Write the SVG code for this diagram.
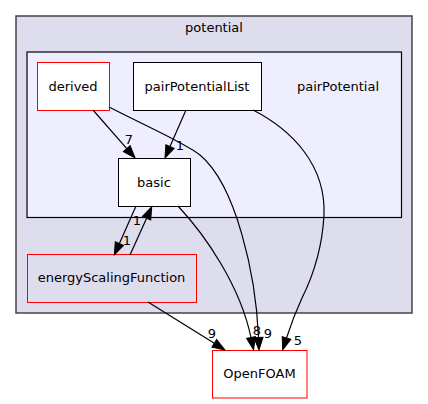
<svg xmlns="http://www.w3.org/2000/svg" width="428" height="404" viewBox="0 0 428 404">
<style>
text{font-family:"DejaVu Sans","Liberation Sans",sans-serif;font-size:13px;fill:#000;text-anchor:middle}
.n{fill:#fff;stroke:#000;stroke-width:1}
.r{stroke:#ff0000}
.e{fill:none;stroke:#000;stroke-width:1.2}
</style>
<defs>
<marker id="a" markerUnits="userSpaceOnUse" markerWidth="16" markerHeight="12" refX="0" refY="4.5" orient="auto" overflow="visible">
<path d="M0,0 L12.5,4.5 L0,9 z" fill="#000" stroke="#000" stroke-width="1"/>
</marker>
</defs>
<rect width="428" height="404" fill="#fff"/>
<g id="cluster_potential">
<rect x="16" y="16" width="396" height="297" fill="#ddddee" stroke="#444" stroke-width="1.5"/>
<text x="214" y="31.5">potential</text>
</g>
<g id="cluster_pairPotential">
<rect x="27" y="52" width="374.5" height="165.5" fill="#eeeeff" stroke="#000" stroke-width="1.2"/>
<text x="338" y="90.5">pairPotential</text>
</g>
<g id="node_derived">
<rect class="n r" x="37.5" y="62.5" width="72" height="48"/>
<text x="73" y="90.5">derived</text>
</g>
<g id="node_pairPotentialList">
<rect class="n" x="133.5" y="62.5" width="128" height="48"/>
<text x="197" y="90.5">pairPotentialList</text>
</g>
<g id="node_basic">
<rect class="n" x="118.5" y="158.5" width="72" height="48"/>
<text x="154" y="186.5">basic</text>
</g>
<g id="node_energyScalingFunction">
<rect class="n r" x="27.5" y="254.5" width="169" height="48" style="fill:#ddddee"/>
<text x="111.5" y="282">energyScalingFunction</text>
</g>
<g id="node_OpenFOAM">
<rect class="n r" x="212.5" y="350.5" width="94.5" height="47.5"/>
<text x="259.5" y="378">OpenFOAM</text>
</g>
<g id="edges">
<path class="e" marker-end="url(#a)" d="M93,110 L126.8,148.6"/>
<text x="129" y="143.5">7</text>
<path class="e" marker-end="url(#a)" d="M186,110 L170,146.5"/>
<text x="180" y="149.5">1</text>
<path class="e" marker-end="url(#a)" d="M109,107 C150,128 185,143 200,155 C236,185 256,275 258.5,337.5"/>
<text x="268" y="337.5">9</text>
<path class="e" marker-end="url(#a)" d="M178,206 C205,235 240,285 251,337.5"/>
<text x="257" y="334.5">8</text>
<path class="e" marker-end="url(#a)" d="M253,110 C292,130 326,165 324,215 C322,252 312,278 302,298 C296,311 291,324 286.5,338"/>
<text x="298" y="344.5">5</text>
<path class="e" marker-end="url(#a)" d="M148,302 L214.3,343.3"/>
<text x="212" y="337.5">9</text>
<path class="e" marker-end="url(#a)" d="M135.7,206.7 L119.4,243.5"/>
<text x="127" y="244.5">1</text>
<path class="e" marker-end="url(#a)" d="M130,255 L146.6,218.2"/>
<text x="137" y="224.5">1</text>
</g>
</svg>
